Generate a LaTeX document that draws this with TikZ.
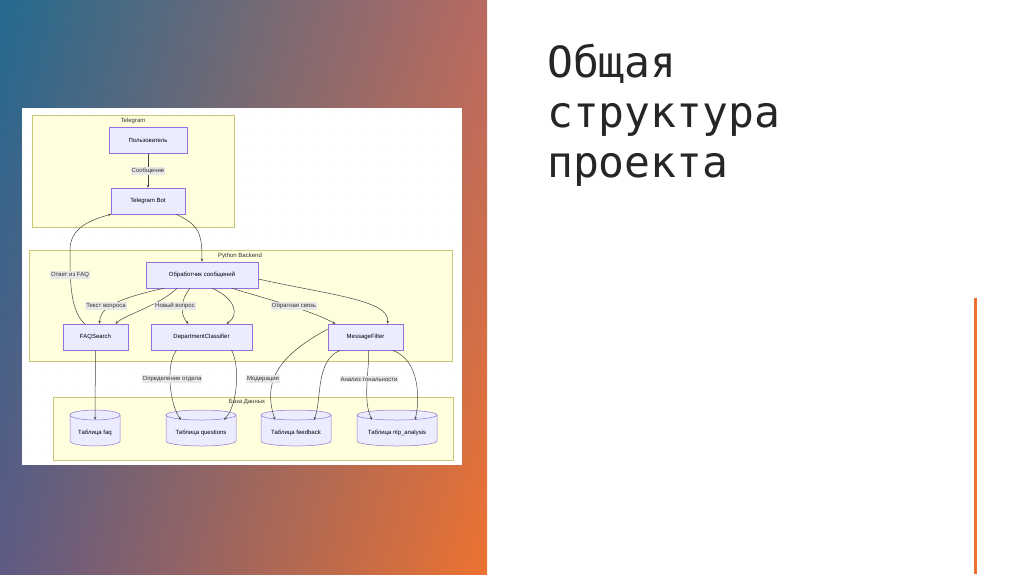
\documentclass[tikz,border=0pt]{standalone}
\usepackage{fontspec}
\setmainfont{Liberation Sans}
\newfontfamily\titlefont{DejaVu Sans Mono}
\usetikzlibrary{arrows.meta,shadings}
\definecolor{nodefill}{HTML}{ECECFF}
\definecolor{nodedraw}{HTML}{9370DB}
\definecolor{clfill}{HTML}{FFFFDE}
\definecolor{cldraw}{HTML}{C8C878}
\definecolor{edge}{HTML}{444444}
\definecolor{lab}{HTML}{E8E8E8}
\definecolor{cTL}{HTML}{246A8E}
\definecolor{cTR}{HTML}{B86A62}
\definecolor{cBL}{HTML}{5E5A84}
\definecolor{cBR}{HTML}{EC7230}
\tikzset{
 box/.style={draw=nodedraw,fill=nodefill,line width=0.5pt,minimum height=26pt,inner sep=1pt,font=\fontsize{6}{7}\selectfont},
 cl/.style={draw=cldraw,fill=clfill,line width=0.5pt},
 cltext/.style={font=\fontsize{6}{7}\selectfont,text=black!80},
 elab/.style={fill=lab,inner sep=1pt,font=\fontsize{6}{7}\selectfont,text=black!80},
 ed/.style={draw=edge,line width=0.5pt,-{Stealth[length=3pt,width=2.5pt]}},
 cylanchor/.style={inner sep=0pt,minimum height=26pt},
}
\newcommand{\mycyl}[6]{% name, cx, top, w, h, text
 \pgfmathsetmacro{\hw}{#4/2}
 \fill[nodefill] (#2-\hw,#3+5) rectangle (#2+\hw,#3+#5-5);
 \fill[nodefill] (#2,#3+#5-5) ellipse[x radius=\hw,y radius=5];
 \fill[nodefill] (#2,#3+5) ellipse[x radius=\hw,y radius=5];
 \draw[nodedraw,line width=0.5pt] (#2,#3+5) ellipse[x radius=\hw,y radius=5];
 \draw[nodedraw,line width=0.5pt] (#2-\hw,#3+5) -- (#2-\hw,#3+#5-5) arc[start angle=180,end angle=360,x radius=\hw,y radius=-5] -- (#2+\hw,#3+5);
 \node[cylanchor,minimum width=#4 pt,font=\fontsize{6}{7}\selectfont] (#1) at (#2,#3+23) {#6};
}
\begin{document}
\begin{tikzpicture}[x=1pt,y=-1pt]
\useasboundingbox (0,0) rectangle (1024,574);
\fill[white] (0,0) rectangle (1024,574);
\shade[upper left=cTL,upper right=cTR,lower left=cBL,lower right=cBR] (0,0) rectangle (487,574);
\fill[cBR] (974,298) rectangle (976.5,574);
\node[anchor=north west,align=left,font=\titlefont\fontsize{43}{50}\selectfont,text=black!85,inner sep=0pt] (title) at (547,44) {Общая\\структура\\проекта};
% diagram image
\fill[white] (22,108) rectangle (462,465);
\foreach \i in {0,...,25}{\foreach \j in {0,...,20}{\fill[black!15] (27+\i*17,113+\j*17) circle (0.5);}}
% clusters
\draw[cl] (32,115) rectangle (234,227);
\node[cltext] (tgl) at (133,121) {Telegram};
\draw[cl] (29,250) rectangle (452,361);
\node[cltext] (pbl) at (240,256) {Python Backend};
\draw[cl] (53,397) rectangle (453,460);
% nodes
\node[box,minimum width=78pt] (user) at (148,140.5) {Пользователь};
\node[box,minimum width=74pt] (bot) at (148,201) {Telegram Bot};
\node[box,minimum width=112pt] (proc) at (202,275) {Обработчик сообщений};
\node[box,minimum width=65pt] (faq) at (95.5,337) {FAQSearch};
\node[box,minimum width=101pt] (dep) at (201.5,337) {DepartmentClassifier};
\node[box,minimum width=75pt] (mf) at (365.5,337) {MessageFilter};
\mycyl{tfaq}{95}{410}{50}{36}{Таблица faq}
\mycyl{tq}{201}{410}{70}{36}{Таблица questions}
\mycyl{tfb}{296}{410}{70}{36}{Таблица feedback}
\mycyl{tnlp}{397}{410}{80}{36}{Таблица nlp\_analysis}
\node[cltext] (dbl) at (247,402) {База Данных};
% edges
\draw[ed] (user) -- node[elab] (l1) {Сообщение} (bot);
\draw[ed] ([xshift=28pt]bot.south) .. controls (200,225) and (202,235) .. (proc.north);
\draw[ed] ([xshift=-11pt]faq.north) .. controls (70,310) and (70,280) .. (70,250) .. controls (70,228) and (90,220) .. ([xshift=-37pt]bot.south);
\node[elab] (l2) at (70,275) {Ответ из FAQ};
\draw[ed] ([xshift=-38pt]proc.south) .. controls (110,300) and (100,310) .. ([xshift=4pt]faq.north);
\node[elab] (l3) at (106,306) {Текст вопроса};
\draw[ed] ([xshift=-25pt]proc.south) .. controls (160,305) and (125,315) .. ([xshift=20pt]faq.north);
\draw[ed] ([xshift=-12pt]proc.south) .. controls (180,300) and (180,315) .. ([xshift=-13pt]dep.north);
\node[elab] (l4) at (175,306) {Новый вопрос};
\draw[ed] ([xshift=10pt]proc.south) .. controls (235,298) and (240,315) .. ([xshift=25pt]dep.north);
\draw[ed] ([xshift=30pt]proc.south) .. controls (270,300) and (310,310) .. ([xshift=-30pt]mf.north);
\node[elab] (l5) at (294,306) {Обратная связь};
\draw[ed] ([yshift=-4pt]proc.east) .. controls (330,295) and (390,300) .. ([xshift=22pt]mf.north);
\draw[ed] (faq) -- (tfaq);
\draw[ed] ([xshift=-25pt]dep.south) .. controls (165,365) and (170,405) .. ([xshift=-20pt]tq.north);
\node[elab] (l6) at (172,379) {Определение отдела};
\draw[ed] ([xshift=30pt]dep.south) .. controls (240,365) and (238,405) .. ([xshift=23pt]tq.north);
\draw[ed] ([yshift=8pt]mf.west) .. controls (280,355) and (262,380) .. ([xshift=-21pt]tfb.north);
\node[elab] (l7) at (263,379) {Модерация};
\draw[ed] ([xshift=-25pt]mf.south) .. controls (315,360) and (322,400) .. ([xshift=18pt]tfb.north);
\draw[ed] ([xshift=3pt]mf.south) .. controls (370,365) and (362,400) .. ([xshift=-25pt]tnlp.north);
\node[elab] (l8) at (369,379) {Анализ тональности};
\draw[ed] ([xshift=27pt]mf.south) .. controls (420,360) and (420,400) .. ([xshift=18pt]tnlp.north);
\end{tikzpicture}
\end{document}
